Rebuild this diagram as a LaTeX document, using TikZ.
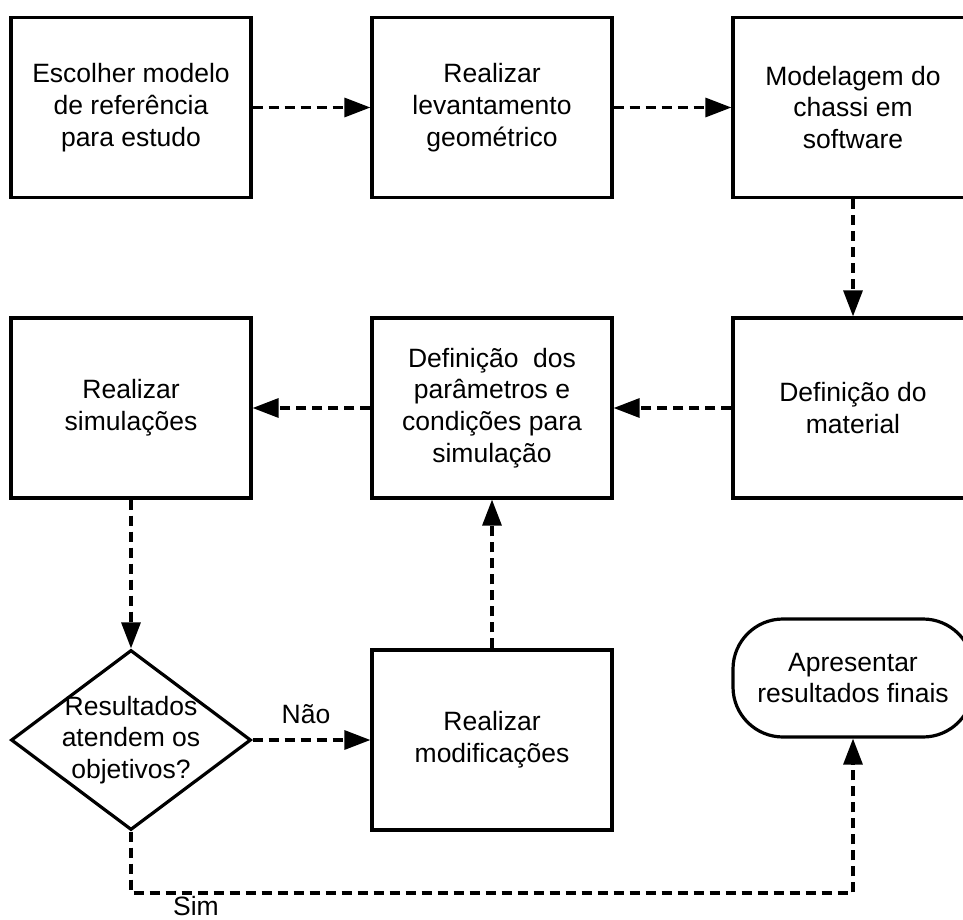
\documentclass[tikz,border=0pt]{standalone}
\usepackage{fontspec}
\setmainfont{Liberation Sans}
\usetikzlibrary{shapes.geometric,arrows.meta}
\begin{document}
\begin{tikzpicture}[x=1pt,y=-1pt,
  box/.style={draw,line width=3.2pt,minimum width=240pt,minimum height=180pt,inner sep=0pt,align=center,font=\fontsize{26.5}{31.7}\selectfont},
  dia/.style={draw,diamond,line width=3.2pt,minimum width=240pt,minimum height=180pt,inner sep=0pt},
  term/.style={draw,line width=3.2pt,rounded corners=50pt,minimum width=240pt,minimum height=118pt,inner sep=0pt,align=center,font=\fontsize{26.5}{31.7}\selectfont},
  txt/.style={align=center,font=\fontsize{26.5}{31.7}\selectfont,inner sep=0pt},
  lbl/.style={font=\fontsize{26.5}{31.7}\selectfont,inner sep=0pt,anchor=base},
  conn/.style={line width=3.2pt,dash pattern=on 10pt off 6pt,-{Triangle[length=26pt,width=19pt]}}
]
\useasboundingbox (0,0) rectangle (963,920);
\clip (0,0) rectangle (963,920);
\fill[white] (0,0) rectangle (963,920);

\node[box] (b1) at (131,107.5) {Escolher modelo\\de referência\\para estudo};
\node[box] (b2) at (492,107.5) {Realizar\\levantamento\\geométrico};
\node[box] (b3) at (853,107.5) {Modelagem do\\chassi em\\software};
\node[box] (b4) at (131,408) {Realizar\\simulações};
\node[box] (b5) at (492,408) {Definição\ \ dos\\parâmetros e\\condições para\\simulação};
\node[box] (b6) at (853,408) {Definição do\\material};
\node[dia] (d) at (131,740) {};
\node[txt] (dt) at (d) {Resultados\\atendem os\\objetivos?};
\node[box] (b7) at (492,740) {Realizar\\modificações};
\node[term] (t) at (853,678) {Apresentar\\resultados finais};

\draw[conn] (b1.east) -- (b2.west);
\draw[conn] (b2.east) -- (b3.west);
\draw[conn] (b3.south) -- (b6.north);
\draw[conn] (b6.west) -- (b5.east);
\draw[conn] (b5.west) -- (b4.east);
\draw[conn] (b4.south) -- (d.north);
\draw[conn] (d.east) -- (b7.west);
\draw[conn] (b7.north) -- (b5.south);
\coordinate (c1) at (131,893);
\draw[conn] (d.south) -- (c1) -| (t.south);

\node[lbl] (nao) at (306,723) {Não};
\node[lbl] (sim) at (196,915) {Sim};
\end{tikzpicture}
\end{document}
